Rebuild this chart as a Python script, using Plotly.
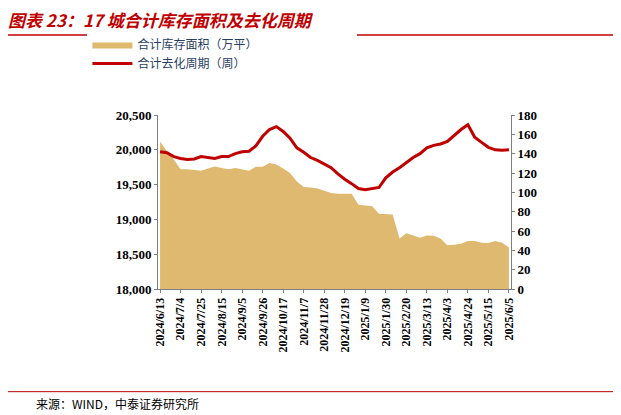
import pandas as pd
import plotly.graph_objects as go

# weekly data, 2024/6/13 - 2025/6/5
dates = pd.date_range("2024-06-13", periods=52, freq="7D")
date_labels = [f"{d.year}/{d.month}/{d.day}" for d in dates]

inventory_area = [
    20120, 19980, 19860, 19720, 19720, 19715, 19700, 19730, 19760, 19740,
    19720, 19740, 19720, 19700, 19755, 19755, 19810, 19790, 19730, 19665,
    19545, 19465, 19460, 19445, 19410, 19380, 19370, 19370, 19370, 19210,
    19205, 19190, 19080, 19080, 19070, 18725, 18800, 18770, 18735, 18770,
    18765, 18725, 18630, 18635, 18650, 18690, 18690, 18665, 18660, 18690,
    18665, 18595,
]
destock_weeks = [
    142, 141, 137, 135, 134, 134.5, 137, 136, 135, 137,
    137, 140, 142, 142.5, 148, 158, 165, 168, 163, 156,
    146, 141.5, 136, 133, 129, 125.5, 119, 113.5, 109, 104,
    102.6, 104, 105, 115, 121, 125.5, 130.6, 136, 140, 146,
    148.6, 150, 152.7, 159, 165, 170, 157, 151.7, 146.6, 144,
    143.5, 144,
]

x = list(range(len(date_labels)))
tick_idx = x[::3]

serif = "Liberation Serif, Times New Roman, serif"
cjk = "Noto Sans CJK SC"
axis_style = dict(showgrid=False, showline=True, linecolor="#7f7f7f",
                  ticks="outside", ticklen=3, tickcolor="#7f7f7f",
                  zeroline=False, automargin=False)

fig = go.Figure()
fig.add_trace(go.Scatter(
    x=x, y=inventory_area, name="合计库存面积（万平）",
    fill="tozeroy", mode="lines", line=dict(width=0, color="#DFB96F"),
    fillcolor="#DFB96F",
))
fig.add_trace(go.Scatter(
    x=x, y=destock_weeks, name="合计去化周期（周）", yaxis="y2",
    mode="lines", line=dict(width=3, color="#C00000"),
))

fig.update_layout(
    width=621, height=415,
    margin=dict(l=150, r=118, t=107, b=134, autoexpand=False),
    plot_bgcolor="white", paper_bgcolor="white",
    showlegend=True,
    legend=dict(orientation="h", x=-0.2, xanchor="left", y=1.35, yanchor="middle",
                font=dict(family=cjk, size=12), itemwidth=40,
                entrywidth=215, entrywidthmode="pixels"),
    xaxis=dict(range=[-0.3, 51.3], tickmode="array", tickvals=tick_idx,
               ticktext=[f"<b>{date_labels[i]}</b>" for i in tick_idx], tickangle=-90,
               tickfont=dict(family=serif, size=12, color="black"), **axis_style),
    yaxis=dict(range=[18000, 20500], dtick=500, tickformat=",",
               tickfont=dict(family=serif, size=13, color="black", weight="bold"),
               **axis_style),
    yaxis2=dict(range=[0, 180], dtick=20, overlaying="y", side="right",
                tickfont=dict(family=serif, size=13, color="black", weight="bold"),
                **axis_style),
    annotations=[
        dict(text="<b><i>图表 23：17 城合计库存面积及去化周期</i></b>",
             xref="paper", yref="paper", x=-0.43, y=1.55, xanchor="left", yanchor="middle",
             showarrow=False, font=dict(family=cjk, size=17, color="#C00000")),
        dict(text="来源：WIND，中泰证券研究所",
             xref="paper", yref="paper", x=-0.35, y=-0.66, xanchor="left", yanchor="middle",
             showarrow=False, font=dict(family=cjk, size=12, color="black")),
    ],
    shapes=[
        dict(type="line", xref="paper", yref="paper", x0=-0.43, x1=1.30, y0=1.46, y1=1.46,
             line=dict(color="#C00000", width=1.5)),
        dict(type="line", xref="paper", yref="paper", x0=-0.43, x1=1.30, y0=-0.59, y1=-0.59,
             line=dict(color="#C00000", width=1)),
    ],
)

fig.write_html("out.html")
